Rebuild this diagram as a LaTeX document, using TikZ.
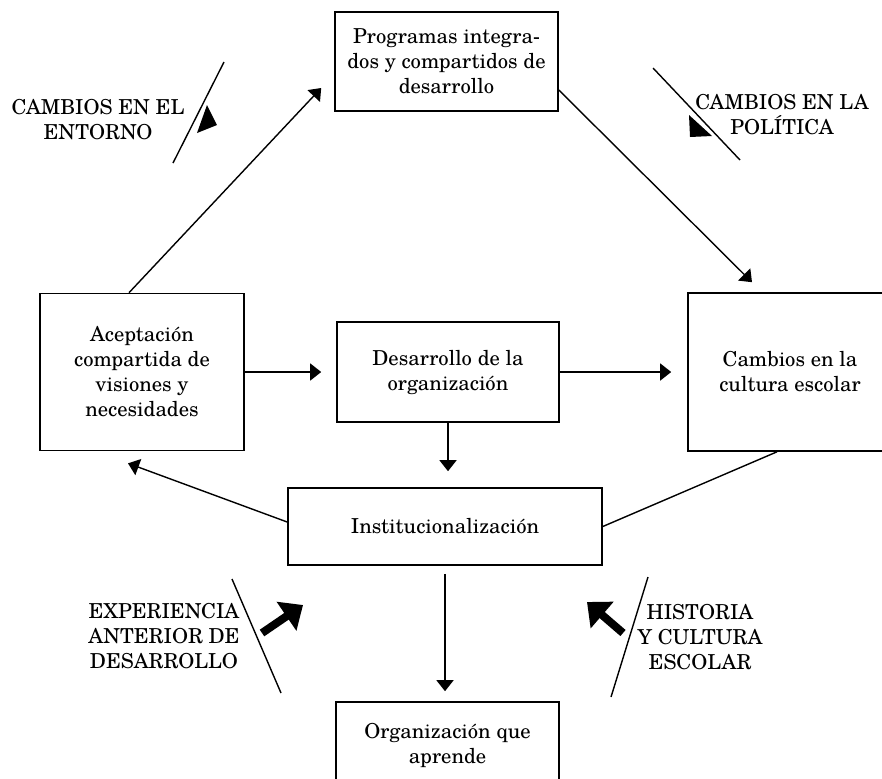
\documentclass[tikz,border=0pt]{standalone}
\usepackage{fontspec}
\setmainfont{TeX Gyre Schola}
\usetikzlibrary{arrows.meta,positioning,calc}
\tikzstyle{block}    = [rectangle, draw=black, line width=0.8pt, align=center, inner sep=2pt]
\tikzstyle{arrow}    = [line width=0.7pt, -{Triangle[length=5.5pt,width=8.5pt]}]
\tikzstyle{link}     = [line width=0.7pt]
\tikzstyle{note}     = [align=center, inner sep=0pt]
\tikzstyle{bigarrow} = [line width=4pt, -{Triangle[length=10pt,width=17pt]}]

\begin{document}
\begin{tikzpicture}[x=0.5pt, y=-0.5pt, font=\fontsize{10.3}{12.5}\selectfont]
		\useasboundingbox (0,0) rectangle (882,778);
		% boxes
		\node[block, minimum width=111.5pt, minimum height=49.5pt] (prog) at (446.5,61.5)
			{Programas integra-\\dos y compartidos de\\desarrollo};
		\node[block, minimum width=102pt, minimum height=78.5pt] (acep) at (142,372)
			{Aceptación\\compartida de\\visiones y\\necesidades};
		\node[block, minimum width=111pt, minimum height=50pt] (desa) at (448,372)
			{Desarrollo de la\\organización};
		\node[block, minimum width=102pt, minimum height=79pt] (camb) at (790,372)
			{Cambios en la\\cultura escolar};
		\node[block, minimum width=157pt, minimum height=38.5pt] (inst) at (445,526.5)
			{Institucionalización};
		\node[block, minimum width=111.5pt, minimum height=43pt] (orga) at (447.5,745)
			{Organización que\\aprende};

		% connectors
		\draw[arrow] ([xshift=-6.5pt]acep.north) -- ([xshift=-6.5pt,yshift=-13.25pt]prog.west);
		\draw[arrow] ([yshift=-14.25pt]prog.east) -- ([xshift=-19pt,yshift=5pt]camb.north);
		\draw[arrow, shorten >=7.5pt] (acep.east) -- (desa.west);
		\draw[arrow, shorten >=8pt] (desa.east) -- (camb.west);
		\draw[arrow, shorten >=8pt] (desa.south) -- (desa.south |- inst.north);
		\draw[arrow, shorten <=4pt, shorten >=5pt] (inst.south) -- (inst.south |- orga.north);
		\draw[arrow] ([yshift=2.25pt]inst.west) -- ([xshift=-7pt,yshift=-6pt]acep.south);
		\draw[link] ([xshift=-6.5pt]camb.south) -- (inst.east);

		% outside influences
		\node[note] (entorno) at (98,120) {CAMBIOS EN EL\\ENTORNO};
		\draw[link] (173,163) -- (224,62);
		\fill (207,105) -- (217,125) -- (197,133) -- cycle;

		\node[note] (politica) at (782,115) {CAMBIOS EN LA\\POLÍTICA};
		\draw[link] (653,68) -- (740,160);
		\fill (689,115) -- (712,136) -- (690,137) -- cycle;

		\node[note] (experiencia) at (164,636) {EXPERIENCIA\\ANTERIOR DE\\DESARROLLO};
		\draw[link] (232,579) -- (281,693);
		\coordinate (expTail) at (262,633);
		\coordinate (expTip) at (303,605);
		\draw[bigarrow] (expTail) -- (expTip);

		\node[note] (historia) at (700,637) {HISTORIA\\Y CULTURA\\ESCOLAR};
		\draw[link] (648,577) -- (611,697);
		\coordinate (hisTail) at (623,633);
		\coordinate (hisTip) at (587,602);
		\draw[bigarrow] (hisTail) -- (hisTip);
	\end{tikzpicture}
\end{document}
